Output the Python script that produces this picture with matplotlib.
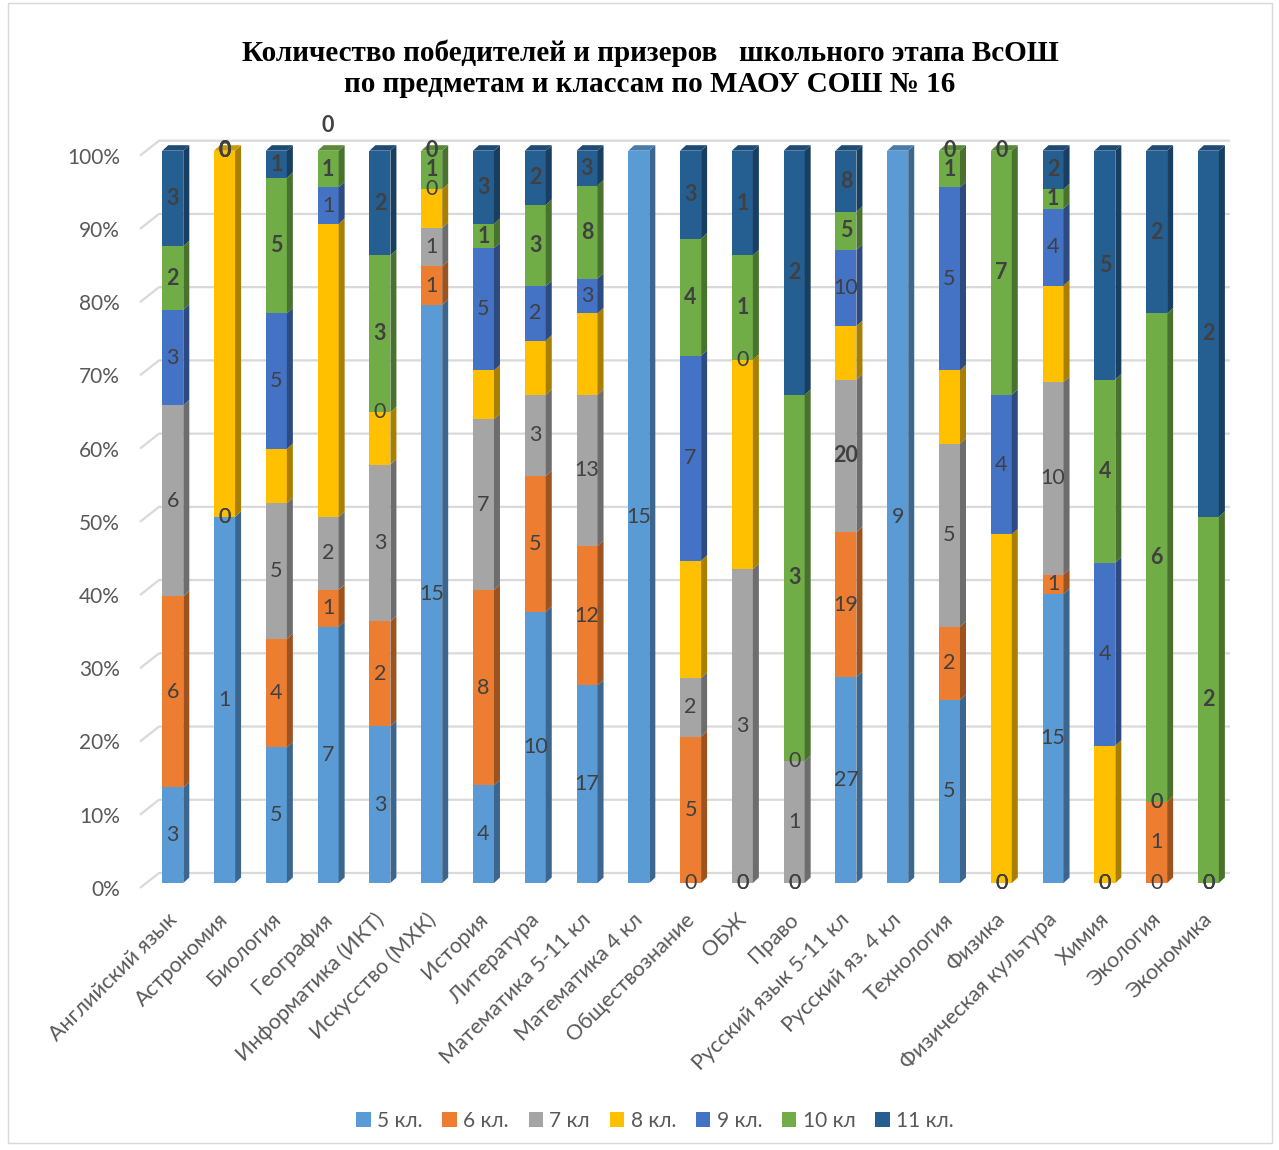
import numpy as np
import matplotlib.pyplot as plt
from matplotlib.patches import Polygon, Patch, Rectangle
from matplotlib.colors import to_rgb

plt.rcParams['font.family'] = ['Lato', 'Noto Sans', 'DejaVu Sans']

nan = np.nan

subjects = ['Английский язык', 'Астрономия', 'Биология', 'География',
            'Информатика (ИКТ)', 'Искусство (МХК)', 'История', 'Литература',
            'Математика 5-11 кл', 'Математика 4 кл', 'Обществознание', 'ОБЖ',
            'Право', 'Русский язык 5-11 кл', 'Русский яз. 4 кл', 'Технология',
            'Физика', 'Физическая культура', 'Химия', 'Экология', 'Экономика']
grades = ['5 кл.', '6 кл.', '7 кл', '8 кл.', '9 кл.', '10 кл', '11 кл.']

# nan = пустая ячейка (без подписи)
g5 = [3, 1, 5, 7, 3, 15, 4, 10, 17, 15, 0, 0, 0, 27, 9, 5, 0, 15, 0, 0, 0]
g6 = [6, 0, 4, 1, 2, 1, 8, 5, 12, nan, 5, 0, 0, 19, nan, 2, 0, 1, 0, 1, 0]
g7 = [6, 0, 5, 2, 3, 1, 7, 3, 13, nan, 2, 3, 1, 20, nan, 5, 0, 10, 0, 0, 0]
g8 = [0, 1, 2, 8, 1, 1, 2, 2, 7, nan, 4, 2, 0, 7, nan, 2, 10, 5, 3, 0, 0]
g9 = [3, 0, 5, 1, 0, 0, 5, 2, 3, nan, 7, 0, 0, 10, nan, 5, 4, 4, 4, 0, 0]
g10 = [2, 0, 5, 1, 3, 1, 1, 3, 8, nan, 4, 1, 3, 5, nan, 1, 7, 1, 4, 6, 2]
g11 = [3, 0, 1, 0, 2, 0, 3, 2, 3, nan, 3, 1, 2, 8, nan, 0, 0, 2, 5, 2, 2]

colors = ['#5B9BD5', '#ED7D31', '#A5A5A5', '#FFC000', '#4472C4', '#70AD47', '#255E91']

title = ('Количество победителей и призеров   школьного этапа ВсОШ\n'
         'по предметам и классам по МАОУ СОШ № 16')

series = [g5, g6, g7, g8, g9, g10, g11]
vals = np.array(series, dtype=float)
totals = np.nansum(vals, axis=0)
pct = np.nan_to_num(vals) / totals * 100
bottoms = np.vstack([np.zeros(len(subjects)), np.cumsum(pct, axis=0)[:-1]])

# подписи: 8 кл. скрыты, 10 и 11 кл. жирные
hidden_series = {3}
bold_series = {5, 6}
bold_cells = {(2, 13)}
label_shift = {(6, 3): 3.5}

W, H = 1279, 1150
fig = plt.figure(figsize=(W / 100, H / 100), dpi=100)
px_l, px_r, px_t, px_b = 130, 1240, 130, 895
ax = fig.add_axes([px_l / W, 1 - px_b / H, (px_r - px_l) / W, (px_b - px_t) / H])
ppy = (883 - 150.7) / 100
ppx = 51.78
ax.set_xlim((px_l - 172.8) / ppx, (px_r - 172.8) / ppx)
ax.set_ylim((883 - px_b) / ppy, (883 - px_t) / ppy)
ax.axis('off')

x = np.arange(len(subjects))
bw = 21 / ppx
dx, dy = 6 / ppx, 5.5 / ppy


def shade(c, f):
    r, g, b = to_rgb(c)
    return (r * f, g * f, b * f)


# сетка (задняя стенка)
gx = [(140 - 172.8) / ppx, (159 - 172.8) / ppx, (1230 - 172.8) / ppx]
for lv in range(0, 101, 10):
    ax.plot(gx, [lv - 5 / ppy, lv + 10 / ppy, lv + 10 / ppy], color='#d9d9d9',
            lw=1.6, zorder=1, solid_capstyle='butt')
    ax.text((120 - 172.8) / ppx, lv - 0.95, f'{lv}%', ha='right', va='center',
            fontsize=15, color='#595959')

for k in range(len(series)):
    ax.bar(x, pct[k], width=bw, bottom=bottoms[k], color=colors[k], lw=0, zorder=3)
    for i in x:
        h = pct[k, i]
        if h <= 0:
            continue
        y0, y1 = bottoms[k, i], bottoms[k, i] + h
        xr = i + bw / 2
        ax.add_patch(Polygon([(xr, y0), (xr + dx, y0 + dy), (xr + dx, y1 + dy), (xr, y1)],
                             closed=True, facecolor=shade(colors[k], 0.66), lw=0, zorder=3))
        if y1 > 99.99:
            xl = i - bw / 2
            ax.add_patch(Polygon([(xl, y1), (xl + dx, y1 + dy), (xr + dx, y1 + dy), (xr, y1)],
                                 closed=True, facecolor=shade(colors[k], 0.8), lw=0, zorder=3))

for k in range(len(series)):
    if k in hidden_series:
        continue
    for i in x:
        v = vals[k, i]
        if np.isnan(v):
            continue
        y = bottoms[k, i] + pct[k, i] / 2 + label_shift.get((k, i), 0)
        bold = k in bold_series or (k, i) in bold_cells
        ax.text(i, y, f'{int(v)}', ha='center', va='center', fontsize=15.5,
                color='#404040', fontweight='bold' if bold else 'normal', zorder=5)

for i, name in enumerate(subjects):
    ax.text(i - 0.12, -3.6, name, ha='right', va='top', rotation=45,
            rotation_mode='anchor', fontsize=15.5, color='#595959')

fig.text(650 / W, 1 - 69 / H, title, ha='center', va='center', fontsize=21,
         fontweight='bold', family='Liberation Serif', linespacing=1.2)

handles = [Patch(facecolor=c) for c in colors]
fig.legend(handles, grades, loc='center', bbox_to_anchor=(655 / W, 1 - 1121 / H),
           ncol=7, frameon=False, handlelength=0.7, handleheight=0.7,
           handletextpad=0.3, columnspacing=0.95, fontsize=15, labelcolor='#595959')

fig.add_artist(Rectangle((8 / W, 1 - 1143 / H), 1264 / W, 1140 / H, transform=fig.transFigure,
                         fill=False, edgecolor='#d9d9d9', lw=1))

fig.savefig('out.png', dpi=100)
